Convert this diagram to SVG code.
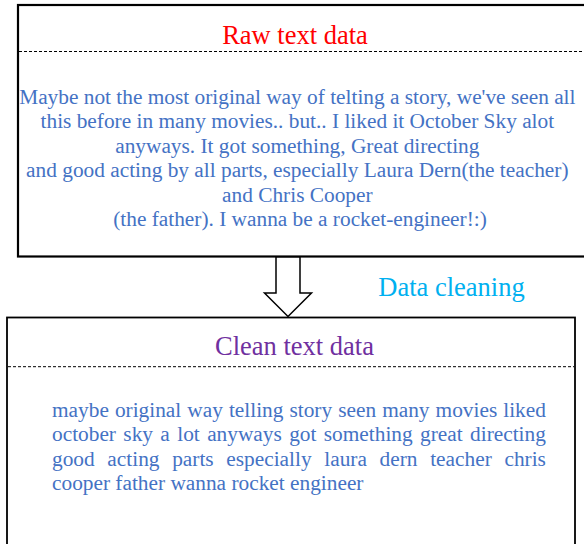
<svg xmlns="http://www.w3.org/2000/svg" width="584" height="544" viewBox="0 0 584 544">
  <style>
    .box { fill: #ffffff; stroke: #000000; }
    .sep { stroke: #000000; stroke-width: 1; stroke-dasharray: 3 2; fill: none; }
    .title { font-family: "Liberation Serif", "Times New Roman", serif; font-size: 26.5px; text-anchor: middle; }
    .body { font-family: "Liberation Serif", "Times New Roman", serif; font-size: 21.33px; fill: #4472C4; }
    .flow { fill: #ffffff; stroke: #000000; stroke-width: 1.5; stroke-linejoin: miter; }
  </style>
  <rect width="584" height="544" fill="#ffffff"/>

  <!-- raw review text -->
  <g id="raw-text">
    <rect class="box" x="18" y="5" width="580" height="251.5" stroke-width="2.2"/>
    <line class="sep" x1="19" y1="51.5" x2="584" y2="51.5"/>
    <text class="title" x="295" y="43.5" fill="#FF0000">Raw text data</text>
    <text class="body" text-anchor="middle">
      <tspan x="300" y="103.5">Maybe not the most original way of telting a story, we've seen all</tspan>
      <tspan x="300" y="128">this before in many movies.. but.. I liked it October Sky alot</tspan>
      <tspan x="300" y="152.5">anyways. It got something, Great directing</tspan>
      <tspan x="300" y="177">and good acting by all parts, especially Laura Dern(the teacher)</tspan>
      <tspan x="300" y="201.5">and Chris Cooper</tspan>
      <tspan x="300" y="226">(the father). I wanna be a rocket-engineer!:)</tspan>
    </text>
  </g>

  <!-- cleaning step -->
  <g id="connectors">
    <polygon class="flow" points="276,257 300,257 300,293 311.5,293 288,316.5 264.5,293 276,293"/>
  </g>
  <g id="cleaning-label">
    <text class="title" x="451.5" y="295.5" fill="#00B0F0">Data cleaning</text>
  </g>

  <!-- cleaned text -->
  <g id="clean-text">
    <rect class="box" x="7" y="317.5" width="568" height="240" stroke-width="1.8"/>
    <line class="sep" x1="8" y1="366.7" x2="574" y2="366.7"/>
    <text class="title" x="294.5" y="354.5" fill="#7030A0">Clean text data</text>
    <text class="body" x="52" y="417" word-spacing="0.73">maybe original way telling story seen many movies liked</text>
    <text class="body" x="52" y="441.3" word-spacing="2.06">october sky a lot anyways got something great directing</text>
    <text class="body" x="52" y="465.6" word-spacing="7.36">good acting parts especially laura dern teacher chris</text>
    <text class="body" x="52" y="489.9">cooper father wanna rocket engineer</text>
  </g>
</svg>
